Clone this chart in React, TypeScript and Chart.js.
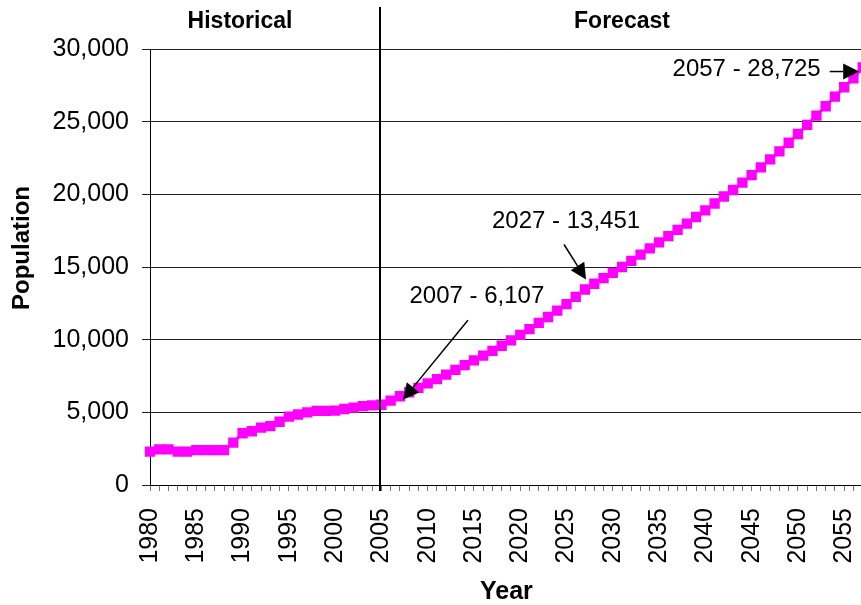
import React, { useEffect, useRef } from "react";
import { Chart, registerables } from "chart.js";

Chart.register(...registerables);

// Categories: one per year, 1980 through 2057
const years: number[] = Array.from({ length: 2057 - 1980 + 1 }, (_, i) => 1980 + i);

// Recorded population, 1980–2005
const historicalPopulation: number[] = [
  2300, 2450, 2450, 2300, 2300, 2400, 2400, 2400, 2400, 2920,
  3560, 3700, 3950, 4050, 4350, 4700, 4850, 5000, 5100, 5100,
  5120, 5230, 5330, 5430, 5480, 5520,
];

// Projected population, 2006–2057
const forecastPopulation: number[] = [
  5800, 6107, 6380, 6680, 6990, 7280, 7600, 7920, 8250, 8580,
  8900, 9230, 9580, 9950, 10330, 10720, 11150, 11560, 12000, 12450,
  12950, 13451, 13850, 14230, 14600, 15000, 15420, 15850, 16280, 16700,
  17120, 17550, 17990, 18440, 18900, 19370, 19850, 20300, 20800, 21320,
  21850, 22400, 22950, 23550, 24150, 24780, 25420, 26060, 26720, 27370,
  27980, 28725,
];

const population: number[] = [...historicalPopulation, ...forecastPopulation];

const yTicks: number[] = [0, 5000, 10000, 15000, 20000, 25000, 30000];

const dividerYear = 2005;
const periodLabels: string[] = ["Historical", "Forecast"];

// Callouts: the year they point at, with label / arrow placement relative to that point (px)
const callouts = [
  { year: 2007, text: "2007 - 6,107", textDx: 77, textDy: -100, align: "center", fromDx: 68, fromDy: -76, toDx: 3, toDy: 3.5 },
  { year: 2027, text: "2027 - 13,451", textDx: -19, textDy: -68, align: "center", fromDx: -21, fromDy: -45, toDx: 1, toDy: -10 },
  { year: 2057, text: "2057 - 28,725", textDx: -42, textDy: 1.5, align: "right", fromDx: -33, fromDy: 4, toDx: -3.5, toDy: 4 },
];

const FONT = "'Liberation Sans', Arial, sans-serif";
const MAGENTA = "#FF00FF";

function drawArrow(ctx: CanvasRenderingContext2D, x1: number, y1: number, x2: number, y2: number) {
  const ang = Math.atan2(y2 - y1, x2 - x1);
  const headLen = 16;
  const headHalf = 8;
  const bx = x2 - headLen * Math.cos(ang);
  const by = y2 - headLen * Math.sin(ang);
  ctx.save();
  ctx.strokeStyle = "#000";
  ctx.fillStyle = "#000";
  ctx.lineWidth = 1.5;
  ctx.beginPath();
  ctx.moveTo(x1, y1);
  ctx.lineTo(bx, by);
  ctx.stroke();
  ctx.beginPath();
  ctx.moveTo(x2, y2);
  ctx.lineTo(bx + headHalf * Math.sin(ang), by - headHalf * Math.cos(ang));
  ctx.lineTo(bx - headHalf * Math.sin(ang), by + headHalf * Math.cos(ang));
  ctx.closePath();
  ctx.fill();
  ctx.restore();
}

const overlayPlugin = {
  id: "overlay",
  afterDraw(chart: any) {
    const { ctx, chartArea, scales } = chart;
    const xs = scales.x;
    const ys = scales.y;

    // Divider between recorded and projected years
    const dx = Math.round(xs.getPixelForValue(years.indexOf(dividerYear))) - 1;
    ctx.save();
    ctx.strokeStyle = "#000";
    ctx.lineWidth = 2;
    ctx.beginPath();
    ctx.moveTo(dx, 7);
    ctx.lineTo(dx, chartArea.bottom + 6);
    ctx.stroke();

    // Period headings
    ctx.fillStyle = "#000";
    ctx.font = `bold 23px ${FONT}`;
    ctx.textAlign = "center";
    ctx.textBaseline = "middle";
    ctx.fillText(periodLabels[0], 240, 22);
    ctx.fillText(periodLabels[1], 622, 22);

    // Vertical axis title
    ctx.save();
    ctx.translate(22, 248);
    ctx.rotate(-Math.PI / 2);
    ctx.font = `bold 24px ${FONT}`;
    ctx.fillText("Population", 0, 0);
    ctx.restore();

    // Callouts with arrows
    ctx.font = `24px ${FONT}`;
    callouts.forEach((c) => {
      const i = years.indexOf(c.year);
      const px = xs.getPixelForValue(i);
      const py = ys.getPixelForValue(population[i]);
      ctx.textAlign = c.align as CanvasTextAlign;
      ctx.textBaseline = "middle";
      ctx.fillStyle = "#000";
      ctx.fillText(c.text, px + c.textDx, py + c.textDy);
      drawArrow(ctx, px + c.fromDx, py + c.fromDy, px + c.toDx, py + c.toDy);
    });
    ctx.restore();
  },
};

export default function App() {
  const canvasRef = useRef<HTMLCanvasElement | null>(null);

  useEffect(() => {
    const canvas = canvasRef.current;
    if (!canvas) return;
    const chart = new Chart(canvas, {
      type: "line",
      data: {
        labels: years.map(String),
        datasets: [
          {
            label: "Population",
            data: population,
            borderColor: MAGENTA,
            backgroundColor: MAGENTA,
            borderWidth: 3,
            pointStyle: "rect",
            pointRadius: 7.3,
            pointBorderWidth: 0,
            pointBackgroundColor: MAGENTA,
            tension: 0,
          },
        ],
      },
      options: {
        animation: false,
        responsive: false,
        devicePixelRatio: 1,
        layout: { padding: { top: 49, right: 0, left: 0, bottom: 0 } },
        plugins: {
          legend: { display: false },
          tooltip: { enabled: false },
        },
        scales: {
          x: {
            type: "category",
            offset: false,
            afterFit: (s: any) => {
              s.height = 120;
              s.paddingLeft = 0;
              s.paddingRight = 0;
            },
            grid: {
              display: true,
              drawOnChartArea: false,
              drawTicks: true,
              tickLength: 6,
              color: "#777",
              lineWidth: 1,
            },
            border: { display: true, color: "#000", width: 1 },
            ticks: {
              autoSkip: false,
              maxRotation: 90,
              minRotation: 90,
              padding: 17,
              color: "#000",
              font: { family: FONT, size: 25 },
              callback: (_v: any, index: number) => (years[index] % 5 === 0 ? String(years[index]) : ""),
            },
            title: {
              display: true,
              text: "Year",
              color: "#000",
              font: { family: FONT, size: 25, weight: "bold", lineHeight: 1 },
              padding: { top: 0, bottom: 0 },
            },
          },
          y: {
            min: 0,
            max: 30000,
            afterFit: (s: any) => {
              s.width = 150;
            },
            afterBuildTicks: (s: any) => {
              s.ticks = yTicks.map((v) => ({ value: v }));
            },
            grid: {
              color: "#222",
              lineWidth: 1,
              drawTicks: true,
              tickLength: 8,
            },
            border: { display: true, color: "#000", width: 1 },
            ticks: {
              padding: 13,
              color: "#000",
              font: { family: FONT, size: 25 },
              callback: (v: any) => Number(v).toLocaleString("en-US"),
            },
          },
        },
      },
      plugins: [overlayPlugin],
    });
    return () => chart.destroy();
  }, []);

  return (
    <div
      style={{
        position: "absolute",
        left: 0,
        top: 0,
        width: 861,
        height: 605,
        overflow: "hidden",
        background: "#fff",
      }}
    >
      <canvas ref={canvasRef} width={870} height={605} style={{ display: "block" }} />
    </div>
  );
}
